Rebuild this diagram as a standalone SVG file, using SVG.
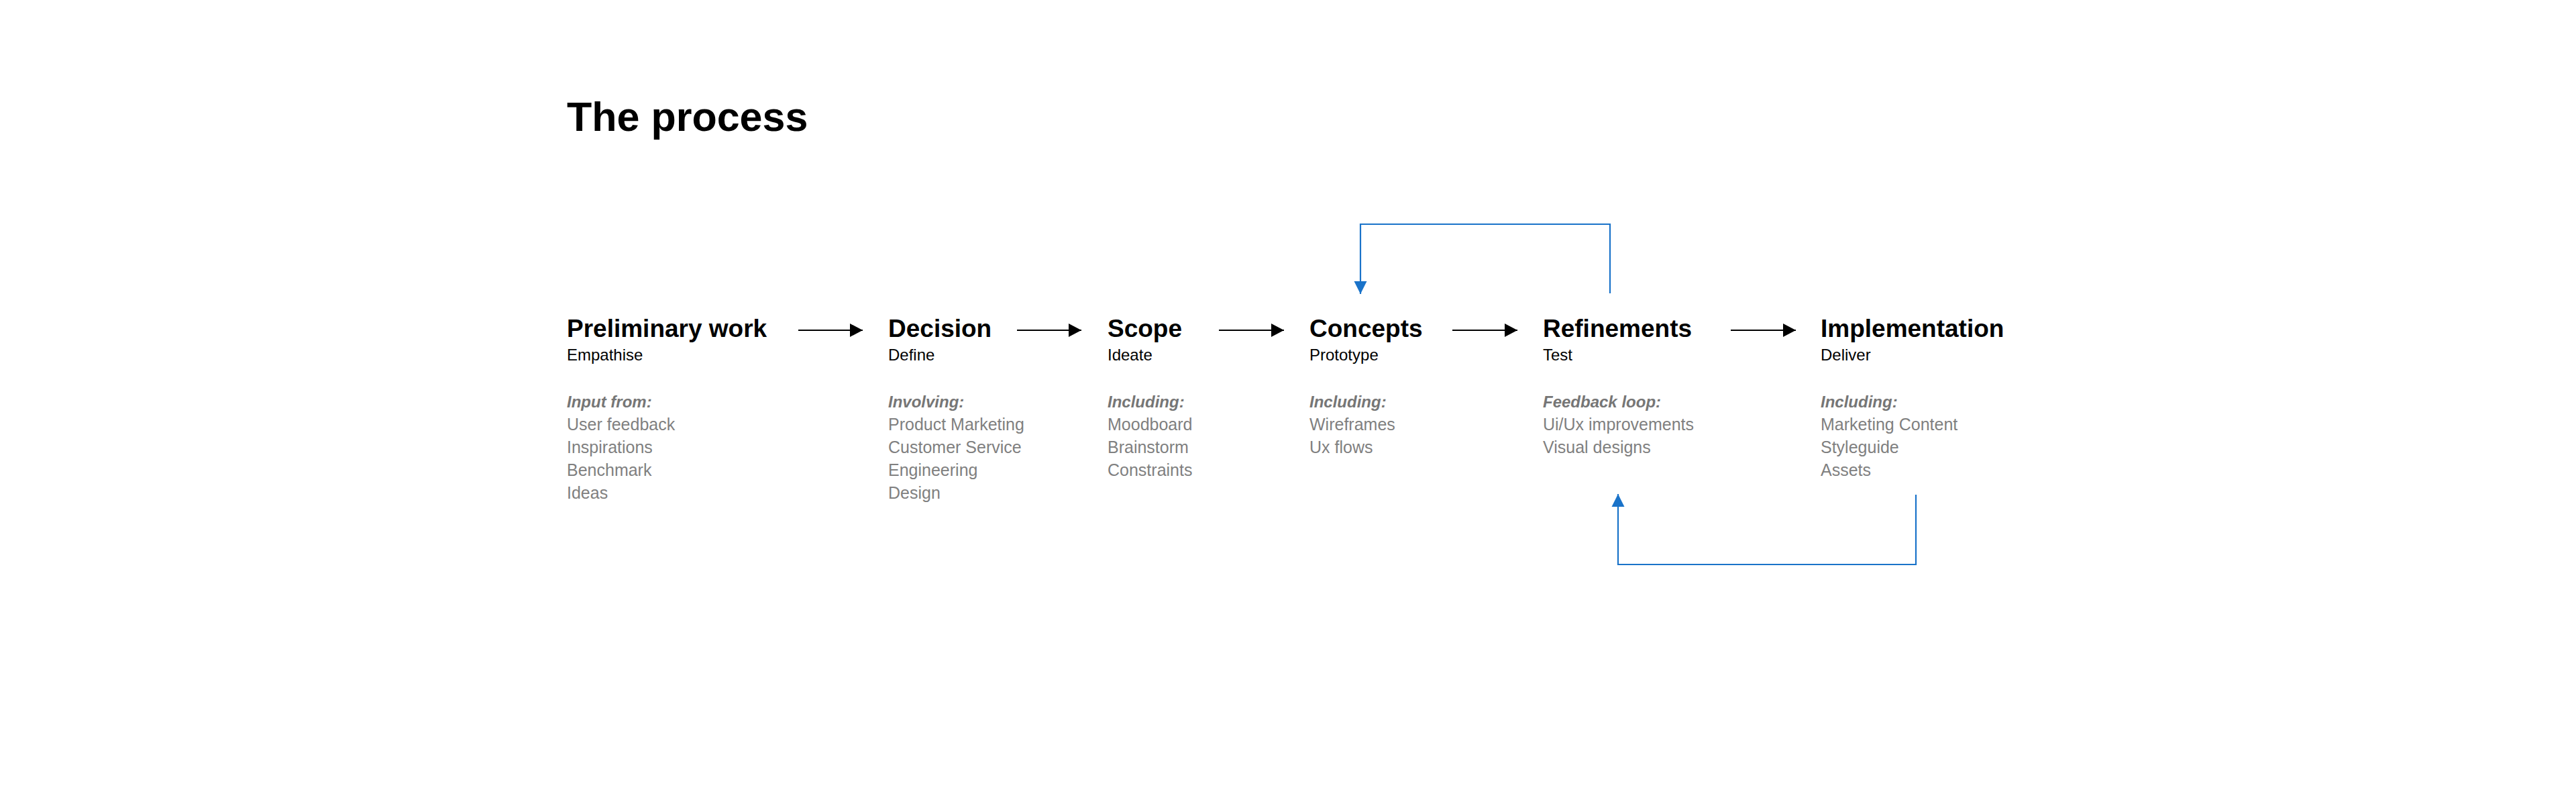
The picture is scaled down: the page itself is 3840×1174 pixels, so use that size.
<svg xmlns="http://www.w3.org/2000/svg" width="3840" height="1174" viewBox="0 0 3840 1174">
<defs>
<style>
.title{font-family:"Liberation Sans",Arial,sans-serif;font-weight:700;font-size:61px;fill:#000}
.h{font-family:"Liberation Sans",Arial,sans-serif;font-weight:700;font-size:37px;fill:#000}
.s{font-family:"Liberation Sans",Arial,sans-serif;font-size:24px;fill:#000}
.l{font-family:"Liberation Sans",Arial,sans-serif;font-weight:700;font-style:italic;font-size:24px;fill:#767676}
.i{font-family:"Liberation Sans",Arial,sans-serif;font-size:25px;fill:#808080}
.flow{stroke:#000;stroke-width:2.2;fill:none}
.loop{stroke:#1a73c9;stroke-width:2.2;fill:none}
</style>
<marker id="ab" markerUnits="userSpaceOnUse" markerWidth="20" markerHeight="20" refX="19" refY="10" orient="auto">
<path d="M0,0 L19,10 L0,20 Z" fill="#000"/>
</marker>
<marker id="au" markerUnits="userSpaceOnUse" markerWidth="20" markerHeight="20" refX="19" refY="10" orient="auto">
<path d="M0,0.5 L19,10 L0,19.5 Z" fill="#1a73c9"/>
</marker>
</defs>
<rect width="3840" height="1174" fill="#fff"/>
<text class="title" x="845" y="195">The process</text>

<g id="connectors">
<line class="flow" x1="1190" y1="492" x2="1286" y2="492" marker-end="url(#ab)"/>
<line class="flow" x1="1516" y1="492" x2="1612" y2="492" marker-end="url(#ab)"/>
<line class="flow" x1="1817" y1="492" x2="1914" y2="492" marker-end="url(#ab)"/>
<line class="flow" x1="2165" y1="492" x2="2262" y2="492" marker-end="url(#ab)"/>
<line class="flow" x1="2580" y1="492" x2="2677" y2="492" marker-end="url(#ab)"/>
<path class="loop" d="M2400,437 V334 H2028 V438" marker-end="url(#au)"/>
<path class="loop" d="M2856,737 V841 H2412 V736" marker-end="url(#au)"/>
</g>

<g id="node-preliminary">
<text class="h" x="845" y="502">Preliminary work</text>
<text class="s" x="845" y="537">Empathise</text>
<text class="l" x="845" y="607">Input from:</text>
<text class="i" x="845" y="641">User feedback</text>
<text class="i" x="845" y="675">Inspirations</text>
<text class="i" x="845" y="709">Benchmark</text>
<text class="i" x="845" y="743">Ideas</text>
</g>
<g id="node-decision">
<text class="h" x="1324" y="502">Decision</text>
<text class="s" x="1324" y="537">Define</text>
<text class="l" x="1324" y="607">Involving:</text>
<text class="i" x="1324" y="641">Product Marketing</text>
<text class="i" x="1324" y="675">Customer Service</text>
<text class="i" x="1324" y="709">Engineering</text>
<text class="i" x="1324" y="743">Design</text>
</g>
<g id="node-scope">
<text class="h" x="1651" y="502">Scope</text>
<text class="s" x="1651" y="537">Ideate</text>
<text class="l" x="1651" y="607">Including:</text>
<text class="i" x="1651" y="641">Moodboard</text>
<text class="i" x="1651" y="675">Brainstorm</text>
<text class="i" x="1651" y="709">Constraints</text>
</g>
<g id="node-concepts">
<text class="h" x="1952" y="502">Concepts</text>
<text class="s" x="1952" y="537">Prototype</text>
<text class="l" x="1952" y="607">Including:</text>
<text class="i" x="1952" y="641">Wireframes</text>
<text class="i" x="1952" y="675">Ux flows</text>
</g>
<g id="node-refinements">
<text class="h" x="2300" y="502">Refinements</text>
<text class="s" x="2300" y="537">Test</text>
<text class="l" x="2300" y="607">Feedback loop:</text>
<text class="i" x="2300" y="641">Ui/Ux improvements</text>
<text class="i" x="2300" y="675">Visual designs</text>
</g>
<g id="node-implementation">
<text class="h" x="2714" y="502">Implementation</text>
<text class="s" x="2714" y="537">Deliver</text>
<text class="l" x="2714" y="607">Including:</text>
<text class="i" x="2714" y="641">Marketing Content</text>
<text class="i" x="2714" y="675">Styleguide</text>
<text class="i" x="2714" y="709">Assets</text>
</g>
</svg>
